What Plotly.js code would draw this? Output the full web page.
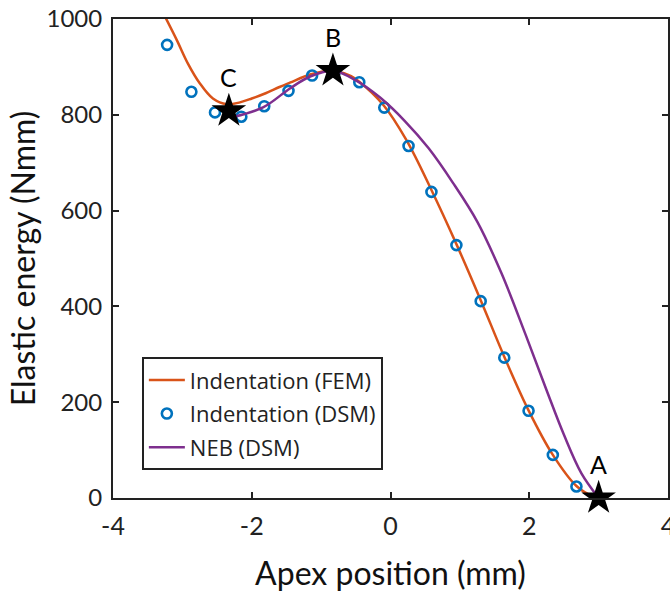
<!DOCTYPE html>
<html>
<head>
<meta charset="utf-8">
<script src="https://cdn.plot.ly/plotly-3.0.1.min.js"></script>
<style>html,body{margin:0;padding:0;background:#fff}#plot{width:670px;height:592px}</style>
</head>
<body>
<div id="plot"></div>
<script>
// Indentation (FEM) curve
var femX = [-3.25, -3.08, -2.92, -2.75, -2.56, -2.36, -2.17, -2.0, -1.8, -1.6, -1.45, -1.16, -0.87, -0.6, -0.45, -0.10, 0.23, 0.59, 0.95, 1.30, 1.64, 1.99, 2.34, 2.68, 2.92, 3.0];
var femY = [1005, 956, 907, 866, 834, 822, 826, 834, 845, 858, 867, 884, 892, 883, 869, 820, 747, 643, 530, 413, 295, 183, 90, 25, 3, 0];
// Indentation (DSM) points
var dsmX = [-3.22, -2.87, -2.53, -2.15, -1.82, -1.47, -1.13, -0.79, -0.45, -0.09, 0.26, 0.59, 0.95, 1.30, 1.64, 1.99, 2.34, 2.68, 3.0];
var dsmY = [946, 848, 805, 796, 818, 850, 882, 892, 868, 815, 735, 639, 528, 411, 293, 182, 90, 24, 0];
// NEB (DSM) path
var nebX = [-2.25, -1.83, -1.45, -1.16, -0.83, -0.5, -0.15, 0.2, 0.55, 0.9, 1.25, 1.6, 1.95, 2.25, 2.5, 2.75, 3.0];
var nebY = [796, 816, 855, 880, 892, 872, 836, 788, 730, 658, 577, 469, 340, 225, 132, 52, 0];
// Stationary states
var starLabels = ["A", "B", "C"];
var starX = [3.0, -0.83, -2.33];
var starY = [0, 892, 808];

var xTicks = [-4, -2, 0, 2, 4];
var yTicks = [0, 200, 400, 600, 800, 1000];

var FONT = "Lato, 'Open Sans', sans-serif";

var traces = [
  {x: femX, y: femY, mode: "lines", name: "Indentation (FEM)", legendgroup: "a",
   line: {color: "#D95319", width: 2.5, shape: "spline", smoothing: 1}},
  {x: dsmX, y: dsmY, mode: "markers", name: "Indentation (DSM)", legendgroup: "b",
   marker: {symbol: "circle-open", size: 10, color: "#0072BD", line: {width: 2.6, color: "#0072BD"}}},
  {x: nebX, y: nebY, mode: "lines", name: "NEB (DSM)", legendgroup: "c",
   line: {color: "#7E2F8E", width: 2.5, shape: "spline", smoothing: 1}},
  {x: starX, y: starY, mode: "markers", showlegend: false, cliponaxis: false,
   marker: {symbol: "star", size: 26, color: "#000000", line: {width: 0}}}
];

var annotations = starLabels.map(function (t, i) {
  return {x: starX[i], y: starY[i], xref: "x", yref: "y", text: t, showarrow: false,
          yshift: 34, font: {family: FONT, size: 25, color: "#000"}};
});

var layout = {
  width: 670, height: 592,
  margin: {l: 113, r: 2, t: 19, b: 94},
  paper_bgcolor: "#fff", plot_bgcolor: "#fff",
  showlegend: true,
  legend: {x: 0.052, y: 0.294, xanchor: "left", yanchor: "top",
           bgcolor: "#fff", bordercolor: "#222", borderwidth: 2,
           traceorder: "grouped", tracegroupgap: 2, itemwidth: 36,
           font: {family: "'Open Sans', sans-serif", size: 22, color: "#222"}},
  xaxis: {range: [-4, 4], tickvals: xTicks, ticktext: xTicks.map(String),
          showgrid: false, zeroline: false, showline: true, linecolor: "#222", linewidth: 2,
          mirror: "ticks", ticks: "inside", ticklen: 6, tickwidth: 2, tickcolor: "#222",
          ticklabeloverflow: "allow", ticklabelstandoff: 5,
          tickfont: {family: FONT, size: 25, color: "#222"},
          title: {text: "Apex position (mm)", font: {family: FONT, size: 32, color: "#111"}, standoff: 24}},
  yaxis: {range: [0, 1000], tickvals: yTicks, ticktext: yTicks.map(String),
          showgrid: false, zeroline: false, showline: true, linecolor: "#222", linewidth: 2,
          mirror: "ticks", ticks: "inside", ticklen: 6, tickwidth: 2, tickcolor: "#222",
          ticklabeloverflow: "allow", ticklabelstandoff: 4,
          tickfont: {family: FONT, size: 24, color: "#222"},
          title: {text: "Elastic energy (Nmm)", font: {family: FONT, size: 32, color: "#111"}, standoff: 1}},
  annotations: annotations
};

Plotly.newPlot("plot", traces, layout, {displayModeBar: false, staticPlot: true});
</script>
</body>
</html>
